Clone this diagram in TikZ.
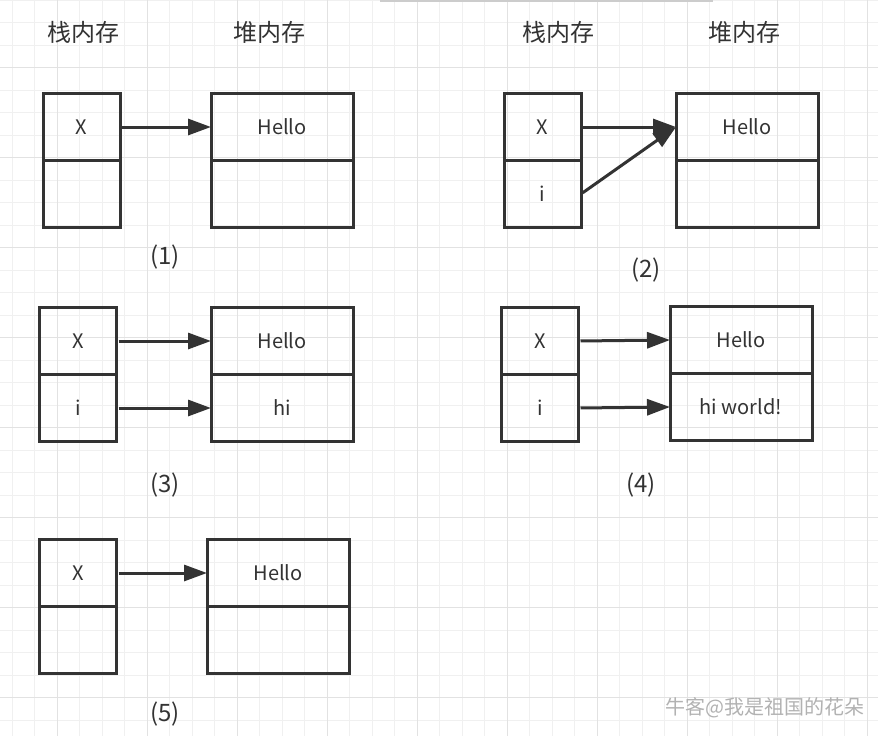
\documentclass[tikz,border=0pt]{standalone}
\usepackage{fontspec}
\setmainfont{Noto Sans CJK SC}
\usetikzlibrary{positioning,arrows.meta}
\definecolor{ink}{HTML}{333333}
\definecolor{gridminor}{HTML}{F0F0F0}
\definecolor{gridmajor}{HTML}{E2E2E2}

\begin{document}
\begin{tikzpicture}[x=1pt, y=-1pt,
    cell/.style={rectangle, draw=ink, line width=3pt, outer sep=0pt, minimum height=67pt, text=ink, font=\fontsize{20}{24}\selectfont},
    stack/.style={cell, minimum width=77pt},
    heap/.style={cell, minimum width=142pt},
    title/.style={text=ink, font=\fontsize{24}{28}\selectfont},
    num/.style={text=ink, font=\fontsize{24}{28}\selectfont},
    >={Triangle[length=23pt,width=16pt]},
    ptr/.style={->, draw=ink, line width=3pt, shorten <=2pt}]
    \fill[white] (0,0) rectangle (878,736);
    \useasboundingbox (0,0) rectangle (878,736);
    % grid
    \foreach \gx in {0,...,38} \draw[gridminor, line width=1pt] (12+22.5*\gx,0) -- (12+22.5*\gx,736);
    \foreach \gy in {0,...,32} \draw[gridminor, line width=1pt] (0,22.5*\gy) -- (878,22.5*\gy);
    \foreach \gx in {0,...,9} \draw[gridmajor, line width=1pt] (57+90*\gx,0) -- (57+90*\gx,736);
    \foreach \gy in {0,...,7} \draw[gridmajor, line width=1pt] (0,67.5+90*\gy) -- (878,67.5+90*\gy);
    \draw[gray!40, line width=2pt] (380,0.5) -- (713,0.5);
    % titles
    \node[title] (t1s) at (83,32) {栈内存};
    \node[title] (t1h) at (269,32) {堆内存};
    \node[title] (t2s) at (558,32) {栈内存};
    \node[title] (t2h) at (744,32) {堆内存};
    % (1)
    \node[stack] (s1x) at (81.5,127) {X};
    \node[stack, below=0pt of s1x] (s1e) {};
    \node[heap] (h1a) at (282,127) {Hello};
    \node[heap, below=0pt of h1a] (h1b) {};
      \draw[ptr] (s1x.east) -- (h1a.west);
    \node[num] (n1) at (165,257) {(1)};
    % (2)
    \node[stack] (s2x) at (542.5,127) {X};
    \node[stack, below=0pt of s2x] (s2i) {i};
    \node[heap] (h2a) at (747,127) {Hello};
    \node[heap, below=0pt of h2a] (h2b) {};
      \draw[ptr] (s2x.east) -- (h2a.west);
      \draw[ptr] (s2i.east) -- (h2a.west);
    \node[num] (n2) at (646,270) {(2)};
    % (3)
    \node[stack] (s3x) at (78,341) {X};
    \node[stack, below=0pt of s3x] (s3i) {i};
    \node[heap] (h3a) at (282,341) {Hello};
    \node[heap, below=0pt of h3a] (h3b) {hi};
      \draw[ptr] (s3x.east) -- (h3a.west);
      \draw[ptr] (s3i.east) -- (h3b.west);
    \node[num] (n3) at (165,485) {(3)};
    % (4)
    \node[stack] (s4x) at (540,341) {X};
    \node[stack, below=0pt of s4x] (s4i) {i};
    \node[heap] (h4a) at (741,340) {Hello};
    \node[heap, below=0pt of h4a] (h4b) {hi world!};
      \draw[ptr] (s4x.east) -- (h4a.west);
      \draw[ptr] (s4i.east) -- (h4b.west);
    \node[num] (n4) at (641,485) {(4)};
    % (5)
    \node[stack] (s5x) at (78,573) {X};
    \node[stack, below=0pt of s5x] (s5e) {};
    \node[heap] (h5a) at (278,573) {Hello};
    \node[heap, below=0pt of h5a] (h5b) {};
      \draw[ptr] (s5x.east) -- (h5a.west);
    \node[num] (n5) at (165,714) {(5)};
    % watermark
    \node[text=gray!60, font=\fontsize{20}{24}\selectfont] (wm) at (765,708) {牛客@我是祖国的花朵};
\end{tikzpicture}
\end{document}
